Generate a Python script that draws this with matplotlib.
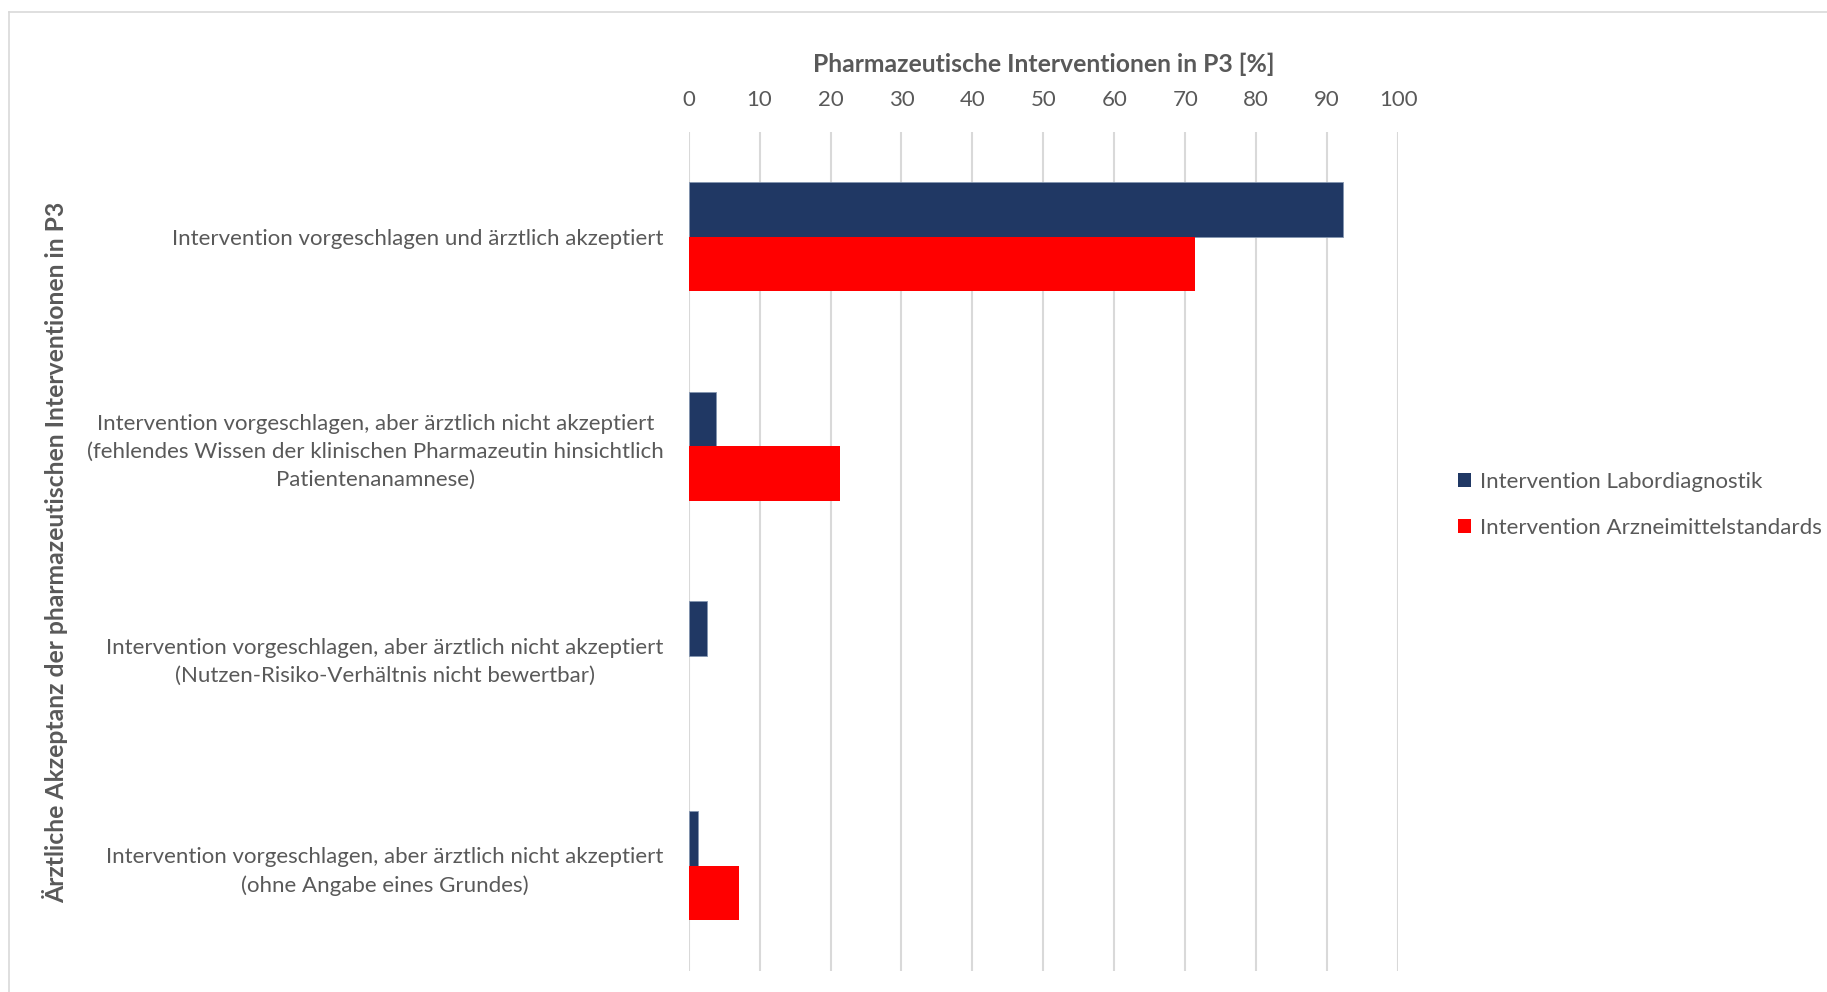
import matplotlib
matplotlib.use("Agg")
import matplotlib.pyplot as plt
from matplotlib.patches import Patch
from matplotlib.lines import Line2D
import numpy as np

plt.rcParams['font.family'] = ['Lato', 'DejaVu Sans']

categories = [
    "Intervention vorgeschlagen und ärztlich akzeptiert",
    "Intervention vorgeschlagen, aber ärztlich nicht akzeptiert\n(fehlendes Wissen der klinischen Pharmazeutin hinsichtlich\nPatientenanamnese)",
    "Intervention vorgeschlagen, aber ärztlich nicht akzeptiert\n(Nutzen-Risiko-Verhältnis nicht bewertbar)",
    "Intervention vorgeschlagen, aber ärztlich nicht akzeptiert\n(ohne Angabe eines Grundes)",
]
labordiagnostik = [92.2, 3.9, 2.6, 1.3]
arzneimittelstandards = [71.4, 21.4, 0.0, 7.1]
series_names = ["Intervention Labordiagnostik", "Intervention Arzneimittelstandards"]
series_colors = ["#203864", "#FF0000"]
x_ticks = list(range(0, 101, 10))

text_color = "#595959"
grid_color = "#D9D9D9"

fig = plt.figure(figsize=(18.27, 9.92), dpi=100)
ax = fig.add_axes([0.3769, 0.0216, 0.7653 - 0.3769, 0.8672 - 0.0216])

y = np.arange(len(categories))
h = 0.261
ax.barh(y - h / 2, labordiagnostik, height=h, color=series_colors[0],
        edgecolor="#8496b0", linewidth=0.6, zorder=3)
ax.barh(y + h / 2, arzneimittelstandards, height=h, color=series_colors[1],
        edgecolor='none', linewidth=0, zorder=3)

ax.set_xlim(0, 100)
ax.set_ylim(len(categories) - 0.5, -0.5)
ax.set_xticks(x_ticks)
ax.set_xticklabels([str(t) for t in x_ticks])
ax.xaxis.tick_top()
ax.tick_params(axis='x', length=0, pad=16, labelsize=16, labelcolor=text_color)
ax.set_yticks(y)
ax.set_yticklabels(categories, multialignment='center', linespacing=1.5)
ax.tick_params(axis='y', length=0, pad=18, labelsize=16, labelcolor=text_color)
for s in ax.spines.values():
    s.set_visible(False)
ax.grid(axis='x', color=grid_color, linewidth=1.5, zorder=0)
ax.set_axisbelow(True)

ax.set_xlabel("Pharmazeutische Interventionen in P3 [%]", fontsize=17.8,
              fontweight='bold', color=text_color, labelpad=12.5)
ax.xaxis.set_label_position('top')

fig.text(0.030, 0.4435, "Ärztliche Akzeptanz der pharmazeutischen Interventionen in P3",
         rotation=90, fontsize=17.8, fontweight='bold', color=text_color,
         ha='center', va='center')

# chart frame
fig.add_artist(Line2D([0.005, 0.005], [0.0, 0.988], color=grid_color, linewidth=1.2,
                      transform=fig.transFigure))
fig.add_artist(Line2D([0.005, 1.0], [0.988, 0.988], color=grid_color, linewidth=1.2,
                      transform=fig.transFigure))

handles = [Patch(facecolor=c, edgecolor='none') for c in series_colors]
fig.legend(handles, series_names, loc='center left', bbox_to_anchor=(0.787, 0.491),
           frameon=False, fontsize=16, labelcolor=text_color, handlelength=0.6,
           handleheight=0.6, handletextpad=0.4, labelspacing=1.15)

fig.savefig("out.png", dpi=100)
